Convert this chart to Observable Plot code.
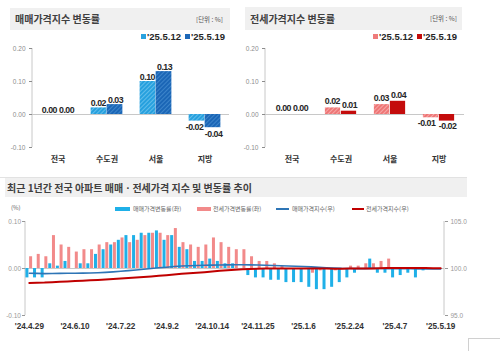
<!DOCTYPE html>
<html><head><meta charset="utf-8">
<script src="https://cdn.jsdelivr.net/npm/d3@7"></script>
<script src="https://cdn.jsdelivr.net/npm/@observablehq/plot@0.6"></script>
<style>
body{margin:0;background:#fff;}
#root{position:relative;width:500px;height:351px;overflow:hidden;font-family:"Noto Sans CJK KR",sans-serif;}
.box{position:absolute;background:#f0f0f0;display:flex;align-items:center;justify-content:space-between;box-sizing:border-box;white-space:nowrap;}
.ttl{font-weight:700;color:#404040;font-size:10px;line-height:1;}
.unit{font-size:6.5px;color:#555;line-height:1;}
.abs{position:absolute;white-space:nowrap;line-height:1;}
.sw{position:absolute;width:5px;height:5px;}
.lg{position:absolute;font-family:"Liberation Sans",Arial,sans-serif;font-weight:700;font-size:9.5px;color:#262626;line-height:1;white-space:nowrap;}
.lg2{position:absolute;font-size:6px;color:#666;line-height:1;white-space:nowrap;}
.chart{position:absolute;}
.chart g[aria-label="text"] text{letter-spacing:-0.5px;}
</style>
</head><body>
<div id="root">
  <div class="box" style="left:10px;top:8px;width:220px;height:22px;padding:0 7px 0 5px;"><span class="ttl">매매가격지수 변동률</span><span class="unit">[단위 : %]</span></div>
  <div class="box" style="left:245px;top:7px;width:217px;height:23px;padding:0 5px 0 5px;"><span class="ttl">전세가격지수 변동률</span><span class="unit">[단위 : %]</span></div>

  <div class="sw" style="left:141px;top:34px;background:#29a2df;"></div><div class="lg" id="lgA1" style="left:147px;top:32px;"></div>
  <div class="sw" style="left:185px;top:34px;background:#1d68b8;"></div><div class="lg" id="lgA2" style="left:191px;top:32px;"></div>
  <div class="sw" style="left:373px;top:34px;background:#ef7b7b;"></div><div class="lg" id="lgB1" style="left:379px;top:32px;"></div>
  <div class="sw" style="left:417px;top:34px;background:#c40c0c;"></div><div class="lg" id="lgB2" style="left:423px;top:32px;"></div>

  <div class="chart" id="c1" style="left:0;top:40px;"></div>
  <div class="chart" id="c2" style="left:240px;top:40px;"></div>

  <div class="abs" style="left:0;top:177px;width:467px;height:1px;background:#e2e2e2;"></div>
  <div class="box" style="left:5px;top:178px;width:462px;height:19px;padding-left:2px;"><span class="ttl">최근 1년간 전국 아파트 매매ㆍ전세가격 지수 및 변동률 추이</span></div>

  <div class="lg2" style="left:11px;top:205px;">(%)</div>
  <div class="abs" style="left:115px;top:207px;width:15px;height:3.5px;background:#1fb0e8;"></div>
  <div class="lg2" style="left:133px;top:206px;">매매가격변동률(좌)</div>
  <div class="abs" style="left:197px;top:207px;width:14px;height:3.5px;background:#f28a8a;"></div>
  <div class="lg2" style="left:213px;top:206px;">전세가격변동률(좌)</div>
  <div class="abs" style="left:276px;top:208px;width:13px;height:1.6px;background:#2e75b6;"></div>
  <div class="lg2" style="left:292px;top:206px;">매매가격지수(우)</div>
  <div class="abs" style="left:352px;top:208px;width:12px;height:2px;background:#c00000;"></div>
  <div class="lg2" style="left:366px;top:206px;">전세가격지수(우)</div>

  <div class="chart" id="c3" style="left:0;top:212px;"></div>
  <div class="chart" id="c4" style="left:0;top:212px;"></div>

  <div class="abs" style="left:468px;top:338px;width:40px;height:20px;border:1px solid #d0d0d0;box-sizing:border-box;"></div>
</div>
<script>
// ---- top panels ----
const categories = ["전국", "수도권", "서울", "지방"];
const weeks = ["'25.5.12", "'25.5.19"];
const saleWeek1 = [0.00, 0.02, 0.10, -0.02];
const saleWeek2 = [0.00, 0.03, 0.13, -0.04];
const jeonseWeek1 = [0.00, 0.02, 0.03, -0.01];
const jeonseWeek2 = [0.00, 0.01, 0.04, -0.02];
const topTicks = [-0.1, 0, 0.1, 0.2];

// ---- bottom panel ----
const dates = ["'24.4.29","'24.5.6","'24.5.13","'24.5.20","'24.5.27","'24.6.3","'24.6.10","'24.6.17","'24.6.24","'24.7.1",
  "'24.7.8","'24.7.15","'24.7.22","'24.7.29","'24.8.5","'24.8.12","'24.8.19","'24.8.26","'24.9.2","'24.9.9",
  "'24.9.16","'24.9.23","'24.9.30","'24.10.7","'24.10.14","'24.10.21","'24.10.28","'24.11.4","'24.11.11","'24.11.18",
  "'24.11.25","'24.12.2","'24.12.9","'24.12.16","'24.12.23","'24.12.30","'25.1.6","'25.1.13","'25.1.20","'25.2.3",
  "'25.2.10","'25.2.17","'25.2.24","'25.3.3","'25.3.10","'25.3.17","'25.3.24","'25.3.31","'25.4.7","'25.4.14",
  "'25.4.21","'25.4.28","'25.5.5","'25.5.12","'25.5.19"];
const dateTicks = ["'24.4.29","'24.6.10","'24.7.22","'24.9.2","'24.10.14","'24.11.25","'25.1.6","'25.2.24","'25.4.7","'25.5.19"];
const saleChange = [-0.02,-0.02,-0.02,0.01,0.005,0.015,0,0.01,0.01,0.03,
  0.04,0.05,0.06,0.07,0.07,0.075,0.075,0.08,0.06,0.07,
  0.045,0.04,0.015,0.015,0.02,0.015,0.01,0.01,0,-0.015,
  -0.02,-0.02,-0.025,-0.025,-0.03,-0.03,-0.03,-0.04,-0.045,-0.045,
  -0.04,-0.03,-0.02,-0.01,0,0.02,-0.01,-0.01,-0.02,-0.015,
  -0.01,-0.02,-0.005,0,0];
const jeonseChange = [0.025,0.03,0.025,0.07,0.05,0.045,0.035,0.04,0.04,0.05,
  0.055,0.055,0.065,0.055,0.06,0.07,0.075,0.075,0.07,0.085,
  0.055,0.05,0.045,0.05,0.065,0.055,0.045,0.04,0.04,0.025,
  0.015,0.015,0.01,0.005,0,0,0,-0.01,-0.005,0,
  -0.005,0,0.005,0.005,0.01,0.01,0.015,0.02,0,0,
  0,0,0,0,0];
const saleIndex = [99.50,99.48,99.46,99.47,99.48,99.50,99.50,99.51,99.52,99.55,
  99.59,99.64,99.70,99.77,99.84,99.92,100.00,100.08,100.14,100.21,
  100.26,100.30,100.32,100.34,100.36,100.38,100.39,100.40,100.40,100.39,
  100.37,100.35,100.32,100.30,100.27,100.24,100.21,100.17,100.12,100.08,
  100.04,100.01,100.00,99.99,99.99,100.01,100.00,99.99,99.98,99.97,
  99.97,99.96,99.96,99.96,99.96];
const jeonseIndex = [98.45,98.48,98.50,98.55,98.59,98.63,98.66,98.70,98.74,98.78,
  98.83,98.88,98.93,98.98,99.03,99.09,99.15,99.22,99.29,99.37,
  99.43,99.49,99.55,99.61,99.68,99.75,99.81,99.87,99.92,99.95,
  99.97,99.99,100.00,100.00,100.00,100.00,100.00,99.99,99.99,99.99,
  99.98,99.98,99.99,99.99,100.00,100.01,100.03,100.05,100.05,100.05,
  100.04,100.04,100.04,100.03,100.03];
const leftTicks = [-0.1, 0, 0.1];
const rightTicks = [95, 100, 105];

document.getElementById("lgA1").textContent = weeks[0];
document.getElementById("lgA2").textContent = weeks[1];
document.getElementById("lgB1").textContent = weeks[0];
document.getElementById("lgB2").textContent = weeks[1];

const SVGNS = "http://www.w3.org/2000/svg";
function vline(side, stroke) {
  return (index, scales, values, dims) => {
    const x = side === "left" ? dims.marginLeft : dims.width - dims.marginRight;
    const l = document.createElementNS(SVGNS, "line");
    l.setAttribute("x1", x); l.setAttribute("x2", x);
    l.setAttribute("y1", dims.marginTop); l.setAttribute("y2", dims.height - dims.marginBottom);
    l.setAttribute("stroke", stroke);
    return l;
  };
}
function hatchDefs(list) {
  return () => {
    const defs = document.createElementNS(SVGNS, "defs");
    defs.innerHTML = list.map(([id, base, stripe]) =>
      `<pattern id="${id}" width="3" height="3" patternUnits="userSpaceOnUse" patternTransform="rotate(45)">` +
      `<rect width="3" height="3" fill="${base}"/><line x1="0.5" y1="0" x2="0.5" y2="3" stroke="${stripe}" stroke-width="1"/></pattern>`).join("");
    return defs;
  };
}

const valFont = {fontFamily: "'Liberation Sans',Arial,sans-serif", fontWeight: 700, fontSize: 8.8, fill: "#262626"};

function topChart(id, w1, w2, fill1, fill2, ml, mr, defs, up, down, negDxA) {
  const rows = categories.map((c, i) => ({cat: c, a: w1[i], b: w2[i]}));
  const W = 240, H = 130;
  const step = (W - ml - mr) / categories.length;
  const bw = 16;
  const lab = (key, dx, ndx) => [
    Plot.text(rows.filter(d => d[key] >= 0), {x: "cat", y: key, text: d => d[key].toFixed(2), dx, dy: up, lineAnchor: "bottom", ...valFont}),
    Plot.text(rows.filter(d => d[key] < 0), {x: "cat", y: key, text: d => d[key].toFixed(2), dx: ndx, dy: down, lineAnchor: "top", ...valFont})
  ];
  const chart = Plot.plot({
    width: W, height: H, marginTop: 8, marginBottom: 23, marginLeft: ml, marginRight: mr,
    x: {type: "band", domain: categories, padding: 0},
    y: {domain: [-0.1, 0.2]},
    style: {background: "transparent", fontFamily: "Liberation Sans, Arial, sans-serif", overflow: "visible"},
    marks: [
      defs,
      vline("left", "#c8c8c8"),
      Plot.ruleY([0], {stroke: "#c8c8c8"}),
      Plot.barY(rows, {x: "cat", y: "a", fill: fill1, insetLeft: step / 2 - bw, insetRight: step / 2}),
      Plot.barY(rows, {x: "cat", y: "b", fill: fill2, insetLeft: step / 2, insetRight: step / 2 - bw}),
      ...lab("a", -8.6, negDxA), ...lab("b", 8.6, 8.6),
      Plot.axisY({ticks: topTicks, tickFormat: d => d.toFixed(2), tickSize: 3, tickPadding: 4, fontSize: 6.5, color: "#8c8c8c", label: null}),
      Plot.axisX({tickSize: 0, tickPadding: 9, fontSize: 8, fontWeight: 700, fontFamily: "Noto Sans CJK KR", color: "#333", label: null})
    ]
  });
  document.getElementById(id).appendChild(chart);
}

topChart("c1", saleWeek1, saleWeek2, "url(#hLB)", "url(#hDB)", 32, 11,
  hatchDefs([["hLB", "#26a0de", "#62bdea"], ["hDB", "#1b66b6", "#3c84ca"]]), -1.5, 3, -10.5);
topChart("c2", jeonseWeek1, jeonseWeek2, "url(#hLR)", "#c40c0c", 25, 16,
  hatchDefs([["hLR", "#ee7676", "#f6a6a6"]]), -3.5, 1.5, -12.5);

// bottom chart
const rowsB = dates.map((d, i) => ({date: d, s: saleChange[i], j: jeonseChange[i], si: saleIndex[i], ji: jeonseIndex[i]}));
const BW = 500, BH = 125, bmt = 9, bmb = 22, bml = 25, bmr = 56;
const bstep = (BW - bml - bmr) / dates.length;
const base = {width: BW, height: BH, marginTop: bmt, marginBottom: bmb, marginLeft: bml, marginRight: bmr,
  style: {background: "transparent", fontFamily: "Liberation Sans, Arial, sans-serif", overflow: "visible"}};

const c3 = Plot.plot({
  ...base,
  x: {type: "band", domain: dates, padding: 0},
  y: {domain: [-0.1, 0.1]},
  marks: [
    vline("left", "#c8c8c8"),
    Plot.ruleY([0], {stroke: "#c8c8c8"}),
    Plot.barY(rowsB, {x: "date", y: "s", fill: "#1fb0e8", insetLeft: bstep / 2 - 3.4, insetRight: bstep / 2 + 0.4}),
    Plot.barY(rowsB, {x: "date", y: "j", fill: "#f28a8a", insetLeft: bstep / 2 + 0.3, insetRight: bstep / 2 - 3.3}),
    Plot.axisY({ticks: leftTicks, tickFormat: d => d.toFixed(2), tickSize: 3, tickPadding: 1.5, fontSize: 6.5, color: "#999", label: null}),
    Plot.axisX({ticks: dateTicks, tickSize: 0, tickPadding: 8, fontSize: 8.2, fontWeight: 700, color: "#333", label: null})
  ]
});
document.getElementById("c3").appendChild(c3);

const c4 = Plot.plot({
  ...base,
  x: {type: "band", domain: dates, padding: 0, axis: null},
  y: {domain: [95, 105], axis: null},
  marks: [
    vline("right", "#c8c8c8"),
    Plot.line(rowsB, {x: "date", y: "si", stroke: "#2e75b6", strokeWidth: 1.6}),
    Plot.line(rowsB, {x: "date", y: "ji", stroke: "#c00000", strokeWidth: 2}),
    Plot.axisY({anchor: "right", ticks: rightTicks, tickFormat: d => d.toFixed(1), tickSize: 3, tickPadding: 3, fontSize: 6.5, color: "#999", label: null})
  ]
});
document.getElementById("c4").appendChild(c4);
</script>
</body></html>
